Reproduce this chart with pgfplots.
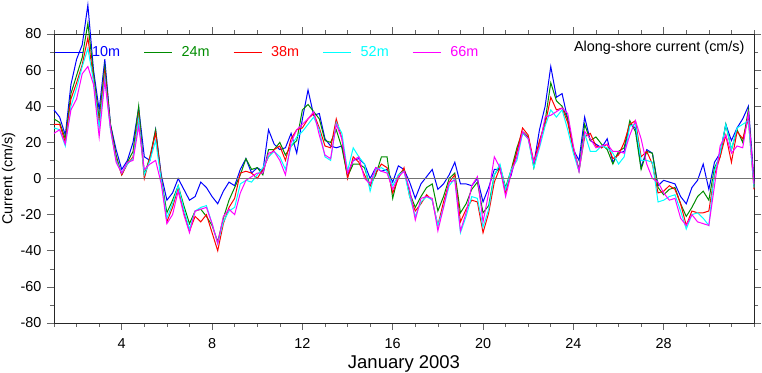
\documentclass[border=0pt]{standalone}
\usepackage{fontspec}
\setmainfont{Liberation Sans}
\usepackage{pgfplots}
\usepackage{pgfplotstable}
\pgfplotsset{compat=1.18}
\definecolor{c10}{rgb}{0,0,1}
\definecolor{c24}{rgb}{0,0.55,0}
\definecolor{c38}{rgb}{1,0,0}
\definecolor{c52}{rgb}{0,1,1}
\definecolor{c66}{rgb}{1,0,1}
\definecolor{zline}{rgb}{0.45,0.45,0.45}
\pgfplotstableread{
x s10 s24 s38 s52 s66
1.00 38 33 30 28 25
1.25 34 31 30 27 27
1.50 24 22 20 18 19
1.75 52 47 44 40 38
2.00 66 57 53 50 44
2.25 74 67 63 62 58
2.50 96 86 78 72 62
2.75 60 58 55 54 52
3.00 38 33 30 28 23
3.25 66 62 59 56 54
3.50 30 30 28 27 28
3.75 16 13 11 10 9
4.00 5 2 2 3 3
4.25 10 9 8 8 9
4.50 20 15 12 11 10
4.75 39 40 35 33 29
5.00 12 2 0 2 5
5.25 10 12 12 10 8
5.50 27 27 25 21 10
5.75 2 0 0 -1 -3
6.00 -12 -19 -24 -22 -25
6.25 -8 -12 -16 -14 -20
6.50 0 -4 -5 -4 -7
6.75 -6 -15 -19 -17 -20
7.00 -12 -25 -29 -28 -30
7.25 -10 -18 -21 -18 -18
7.50 -2 -17 -24 -16 -17
7.75 -5 -21 -20 -15 -16
8.00 -10 -26 -30 -25 -25
8.25 -14 -35 -40 -36 -36
8.50 -7 -22 -25 -24 -21
8.75 -2 -12 -16 -18 -17
9.00 -4 -5 -11 -16 -20
9.25 5 2 3 -3 -8
9.50 11 11 4 -1 -1
9.75 3 5 3 -2 1
10.00 6 6 0 2 3
10.25 4 2 5 6 3
10.50 27 16 12 12 14
10.75 19 16 16 15 15
11.00 16 20 18 12 10
11.25 17 13 10 5 2
11.50 25 18 22 18 20
11.75 14 21 27 23 27
12.00 33 38 28 26 30
12.25 49 41 33 30 33
12.50 35 37 36 34 37
12.75 36 33 28 27 24
13.00 22 21 18 12 13
13.25 18 20 17 10 11
13.50 17 27 33 31 30
13.75 18 17 22 25 22
14.00 2 1 0 4 3
14.25 10 8 12 17 10
14.50 11 8 9 12 12
14.75 8 6 2 8 0
15.00 0 -4 -4 -7 -3
15.25 6 2 3 5 6
15.50 4 12 8 6 4
15.75 5 12 6 4 3
16.00 -2 -11 -8 -4 -6
16.25 7 2 0 2 1
16.50 5 5 6 4 4
16.75 -2 -8 -10 -10 -6
17.00 -11 -16 -18 -21 -23
17.25 -3 -10 -14 -13 -11
17.50 1 -5 -9 -10 -10
17.75 5 -3 -12 -12 -11
18.00 -6 -18 -26 -26 -29
18.25 -3 -10 -13 -16 -16
18.50 2 0 -2 -4 -2
18.75 9 3 2 0 -1
19.00 -3 -19 -24 -30 -29
19.25 -3 -14 -17 -21 -19
19.50 -4 -6 -12 -10 -4
19.75 0 -2 -13 -11 1
20.00 -13 -19 -30 -27 -24
20.25 -5 -15 -19 -17 -8
20.50 5 2 -2 2 12
20.75 5 7 6 8 6
21.00 -6 -5 -8 -6 -10
21.25 2 5 4 5 3
21.50 15 17 15 10 12
21.75 25 26 28 25 26
22.00 23 23 24 22 22
22.25 8 6 9 6 9
22.50 27 20 21 17 18
22.75 40 32 30 29 34
23.00 62 53 45 38 35
23.25 45 43 38 34 37
23.50 47 40 39 38 39
23.75 33 33 31 27 36
24.00 16 17 16 14 18
24.25 10 5 4 4 4
24.50 34 30 23 25 26
24.75 21 21 25 15 22
25.00 19 23 18 15 17
25.25 17 19 17 18 18
25.50 22 16 19 17 19
25.75 9 8 11 14 15
26.00 14 15 13 8 15
26.25 15 17 20 12 14
26.50 30 32 30 29 24
26.75 28 26 32 30 32
27.00 6 5 12 10 22
27.25 16 15 15 10 8
27.50 14 14 8 9 0
27.75 -4 -5 -8 -13 -2
28.00 -1 -9 -7 -12 -8
28.25 -2 -6 -4 -10 -12
28.50 -3 -5 -6 -9 -11
28.75 -10 -14 -14 -18 -22
29.00 -14 -21 -26 -28 -26
29.25 -5 -16 -18 -20 -20
29.50 -1 -10 -19 -19 -24
29.75 8 -7 -19 -22 -25
30.00 -6 -12 -18 -26 -26
30.25 9 6 2 4 -4
30.50 14 12 12 14 18
30.75 30 30 24 30 24
31.00 21 16 9 16 14
31.25 28 27 26 28 18
31.50 33 20 22 30 17
31.75 40 38 33 32 36
32.00 -1 -4 -6 -5 -3
}\datatable
\begin{document}
\begin{tikzpicture}
\begin{axis}[
  name=ax,
  scale only axis, width=700pt, height=289pt,
  xmin=1, xmax=32, ymin=-80, ymax=80,
  xtick={4,8,...,28}, minor xtick={1,2,...,32},
  ytick={-80,-60,...,80}, minor ytick={-70,-50,...,70},
  tick align=outside, major tick length=7pt, minor tick length=4pt,
  tick style={black!60, line width=0.6pt},
  axis line style={black!85, line width=0.8pt},
  clip=false,
  /pgf/number format/assume math mode=true,
  ticklabel style={font=\fontsize{14.4}{17}\selectfont},
  xticklabel style={yshift=-5pt},
  yticklabel style={xshift=-2pt},
  xlabel={January 2003},
  xlabel style={at={(axis description cs:0.5,0)}, anchor=base, yshift=-46pt, font=\fontsize{18.5}{22}\selectfont},
  ylabel={Current (cm/s)},
  ylabel style={at={(axis description cs:-0.0593,0.5)}, anchor=base, font=\fontsize{14.4}{17}\selectfont},
  legend style={at={(axis cs:1,70)}, anchor=west, draw=none, fill=none, inner sep=0pt,
    font=\fontsize{14.4}{17}\selectfont,
    /tikz/every odd column/.append style={column sep=7pt},
    /tikz/every even column/.append style={column sep=21.5pt}},
  legend columns=5,
  legend cell align=left,
  legend image code/.code={\draw[#1] (0pt,0pt) -- (28pt,0pt);},
  every axis plot/.append style={line width=1pt},
]
\addplot[c10] table[x=x,y=s10]{\datatable};
\addplot[c24] table[x=x,y=s24]{\datatable};
\addplot[c38] table[x=x,y=s38]{\datatable};
\addplot[c52] table[x=x,y=s52]{\datatable};
\addplot[c66] table[x=x,y=s66]{\datatable};
\addplot[zline, line width=1.4pt, forget plot] coordinates {(1,0) (32,0)};
\legend{\textcolor{c10}{10m},\textcolor{c24}{24m},\textcolor{c38}{38m},\textcolor{c52}{52m},\textcolor{c66}{66m}}
\node[anchor=base east, xshift=-6pt, yshift=-17.7pt, font=\fontsize{14.4}{17}\selectfont] at (rel axis cs:1,1) {Along-shore current (cm/s)};
\end{axis}
\pgfresetboundingbox
\path[use as bounding box] ([xshift=-54pt,yshift=-50pt]ax.south west) rectangle ([xshift=8pt,yshift=34pt]ax.north east);
\end{tikzpicture}
\end{document}
